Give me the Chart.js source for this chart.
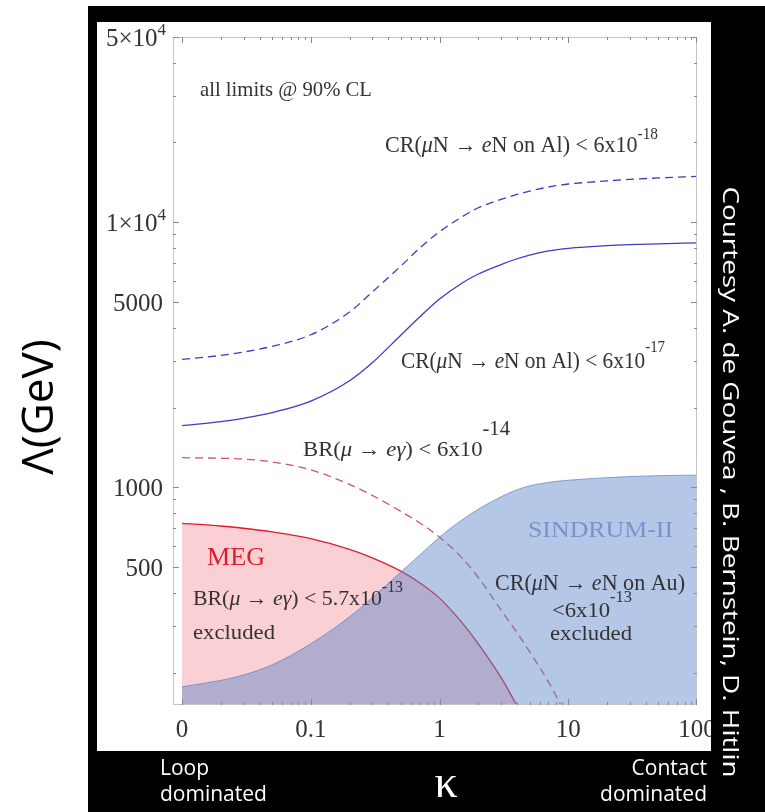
<!DOCTYPE html>
<html>
<head>
<meta charset="utf-8">
<script src="https://cdn.jsdelivr.net/npm/chart.js@4/dist/chart.umd.min.js"></script>
<style>
  body { margin: 0; background: #fff; }
  #wrap { position: absolute; left: 0; top: 0; width: 765px; height: 812px; }
</style>
</head>
<body>
<div id="wrap"><canvas id="lfvchart"></canvas></div>
<script>
// kappa values (x axis, log)
var kappa = [0.01, 0.02, 0.03, 0.05, 0.1, 0.2, 0.3, 0.5, 0.7, 1, 1.5, 2, 3, 4, 5, 7, 8, 10, 20, 30, 50, 100];

// Lambda (GeV)
var crAl18 = [3041, 3146, 3240, 3404, 3764, 4588, 5456, 6832, 7985, 9211, 10497, 11348, 12203, 12742, 13100, 13585, 13739, 13943, 14322, 14509, 14699, 14891];
var crAl17 = [1710, 1769, 1822, 1914, 2116, 2525, 2951, 3748, 4390, 5131, 5903, 6381, 6927, 7285, 7522, 7795, 7869, 7972, 8161, 8232, 8296, 8361];
var brMeg14 = [1294, 1288, 1279, 1247, 1164, 1026, 933, 812, 735, 649, 541, 457, 345, 283, 240, 185, 164, 134, null, null, null, null];
var brMeg13 = [732, 715, 701, 679, 640, 583, 542, 483, 437, 382, 308, 257, 192, 150, null, null, null, null, null, null, null, null];
var sindrum = [177, 187, 196, 214, 257, 325, 383, 479, 555, 649, 755, 827, 921, 979, 1013, 1044, 1053, 1064, 1088, 1098, 1107, 1112];

// tick labels
var xMajor = [0.01, 0.1, 1, 10, 100];
var xLabels = ['0', '0.1', '1', '10', '100'];
var yMajor = [500, 1000, 5000, 10000, 50000];
var yLabels = [[['500', '']], [['1000', '']], [['5000', '']], [['1\u00d710', ''], ['4', 's', 17, 11]], [['5\u00d710', ''], ['4', 's', 17, 11]]];

var SERIF = '"Liberation Serif", "Times New Roman", serif';
var SANS = '"Open Sans", "Noto Sans", sans-serif';

function pts(arr) {
    return kappa.map(function (k, i) { return { x: k, y: arr[i] }; });
}

// draw text made of pieces: [text, style, size, raise]  style: '' normal, 'i' italic, 's' superscript
function drawRich(ctx, parts, x, y, size, width, color, align) {
    var fonts = [], ws = [], total = 0;
    parts.forEach(function (p) {
        var sz = p[1] == 's' ? (p[2] || size * 0.7) : size;
        var f = (p[1] == 'i' ? 'italic ' : '') + sz + 'px ' + SERIF;
        ctx.font = f;
        var w = ctx.measureText(p[0]).width;
        fonts.push(f); ws.push(w); total += w;
    });
    var sx = width ? width / total : 1;
    var x0 = x;
    if (align == 'right') x0 = x - total * sx;
    ctx.save();
    ctx.translate(x0, y);
    ctx.scale(sx, 1);
    ctx.fillStyle = color || '#333';
    ctx.textBaseline = 'alphabetic';
    ctx.textAlign = 'left';
    var cx = 0;
    parts.forEach(function (p, i) {
        ctx.font = fonts[i];
        var dy = p[1] == 's' ? -(p[3] || size * 0.5) : 0;
        ctx.fillText(p[0], cx, dy);
        cx += ws[i];
    });
    ctx.restore();
}

var framePlugin = {
    id: 'frame',
    beforeDraw: function (chart) {
        var ctx = chart.ctx;
        ctx.save();
        ctx.fillStyle = '#fff';
        ctx.fillRect(0, 0, 765, 812);
        ctx.fillStyle = '#000';
        ctx.fillRect(88, 6, 677, 806);
        ctx.fillStyle = '#fff';
        ctx.fillRect(97, 22, 614, 729);
        // y axis title, on the white margin
        ctx.translate(53, 407);
        ctx.rotate(-Math.PI / 2);
        ctx.fillStyle = '#000';
        ctx.font = '44px ' + SANS;
        ctx.textAlign = 'center';
        ctx.textBaseline = 'alphabetic';
        ctx.fillText('\u039b(GeV)', 0, 0);
        ctx.restore();
    },
    afterDatasetsDraw: function (chart) {
        var ctx = chart.ctx, a = chart.chartArea;
        var xs = chart.scales.x, ys = chart.scales.y;
        ctx.save();
        ctx.strokeStyle = '#c4c4c4';
        ctx.lineWidth = 1;
        ctx.strokeRect(a.left + 0.5, a.top + 0.5, a.right - a.left - 1, a.bottom - a.top - 1);

        // inward ticks on all four sides
        ctx.strokeStyle = '#8a8a8a';
        ctx.beginPath();
        [0.01, 0.1, 1, 10].forEach(function (d) {
            for (var m = 1; m < 10; m++) {
                var px = Math.round(xs.getPixelForValue(d * m)) + 0.5;
                var len = m == 1 ? 6 : 3;
                ctx.moveTo(px, a.bottom); ctx.lineTo(px, a.bottom - len);
                ctx.moveTo(px, a.top); ctx.lineTo(px, a.top + len);
            }
        });
        var px100 = Math.round(xs.getPixelForValue(100)) - 0.5;
        ctx.moveTo(px100, a.bottom); ctx.lineTo(px100, a.bottom - 6);
        ctx.moveTo(px100, a.top); ctx.lineTo(px100, a.top + 6);
        [100, 1000, 10000].forEach(function (d) {
            for (var m = 1; m < 10; m++) {
                var v = d * m;
                if (v < ys.min || v > ys.max) continue;
                var py = Math.round(ys.getPixelForValue(v)) + 0.5;
                var len = yMajor.indexOf(v) >= 0 ? 6 : 3;
                ctx.moveTo(a.left, py); ctx.lineTo(a.left + len, py);
                ctx.moveTo(a.right, py); ctx.lineTo(a.right - len, py);
            }
        });
        ctx.stroke();
        ctx.restore();

        // y tick labels with superscripts
        yMajor.forEach(function (v, i) {
            var py = ys.getPixelForValue(v);
            drawRich(ctx, yLabels[i], yLabels[i].length > 1 ? 166 : 163, py + 9, 25, 0, '#333', 'right');
        });

        // annotations
        drawRich(ctx, [['all limits @ 90% CL', '']], 200, 96, 22, 172, '#333');
        drawRich(ctx, [['CR(', ''], ['\u03bc', 'i'], ['N \u2192 ', ''], ['e', 'i'], ['N on Al) < 6x10', ''], ['-18', 's', 16, 13]], 385, 152, 23, 273, '#333');
        drawRich(ctx, [['CR(', ''], ['\u03bc', 'i'], ['N \u2192 ', ''], ['e', 'i'], ['N on Al) < 6x10', ''], ['-17', 's', 16, 16]], 401, 368, 23, 264, '#333');
        drawRich(ctx, [['BR(', ''], ['\u03bc', 'i'], [' \u2192 ', ''], ['e\u03b3', 'i'], [') < 6x10', ''], ['-14', 's', 20, 21]], 303, 456, 22, 207, '#333');
        drawRich(ctx, [['MEG', '']], 207, 565, 25, 58, 'rgb(220,30,45)');
        drawRich(ctx, [['BR(', ''], ['\u03bc', 'i'], [' \u2192 ', ''], ['e\u03b3', 'i'], [') < 5.7x10', ''], ['-13', 's', 16, 13]], 193, 605, 22, 210, '#333');
        drawRich(ctx, [['excluded', '']], 193, 639, 22, 82, '#333');
        drawRich(ctx, [['SINDRUM-II', '']], 528, 537, 24, 145, 'rgb(120,148,202)');
        drawRich(ctx, [['CR(', ''], ['\u03bc', 'i'], ['N \u2192 ', ''], ['e', 'i'], ['N on Au)', '']], 495, 590, 23, 190, '#333');
        drawRich(ctx, [['<6x10', ''], ['-13', 's', 16, 15]], 552, 617, 22, 80, '#333');
        drawRich(ctx, [['excluded', '']], 550, 640, 22, 82, '#333');
    },
    afterDraw: function (chart) {
        var ctx = chart.ctx;
        ctx.save();
        ctx.fillStyle = '#000';
        ctx.fillRect(711, 6, 54, 806);
        ctx.fillStyle = '#fff';
        ctx.font = '21px ' + SANS;
        ctx.textBaseline = 'alphabetic';
        ctx.textAlign = 'left';
        ctx.fillText('Loop', 160, 775);
        ctx.fillText('dominated', 160, 801);
        ctx.textAlign = 'right';
        ctx.fillText('Contact', 707, 775);
        ctx.fillText('dominated', 707, 801);
        ctx.textAlign = 'center';
        ctx.font = '46px ' + SERIF;
        ctx.fillText('\u03ba', 446, 797);
        // credit on the right, reading downwards, stretched to its length
        var credit = 'Courtesy A. de Gouvea , B. Bernstein, D. Hitlin';
        ctx.font = '22px ' + SANS;
        var cw = ctx.measureText(credit).width;
        ctx.translate(723, 482);
        ctx.rotate(Math.PI / 2);
        ctx.scale(591 / cw, 1);
        ctx.fillText(credit, 0, 0);
        ctx.restore();
    }
};

var ctxLfv = document.getElementById('lfvchart').getContext('2d');
var lfvchart = new Chart(ctxLfv, {
    type: 'line',
    data: {
        datasets: [{
            label: 'SINDRUM-II',
            data: pts(sindrum),
            borderColor: 'rgba(90,130,200,0.7)',
            borderWidth: 1,
            backgroundColor: 'rgba(90,130,200,0.45)',
            fill: 'start',
            order: 0
        }, {
            label: 'CR Al 6e-18',
            data: pts(crAl18),
            borderColor: 'rgb(60,60,195)',
            borderWidth: 1.3,
            borderDash: [8, 5],
            fill: false,
            order: 1
        }, {
            label: 'CR Al 6e-17',
            data: pts(crAl17),
            borderColor: 'rgb(60,60,200)',
            borderWidth: 1.3,
            fill: false,
            order: 1
        }, {
            label: 'MEG',
            data: pts(brMeg13),
            borderColor: 'rgb(220,30,45)',
            borderWidth: 1.3,
            backgroundColor: 'rgb(250,208,212)',
            fill: 'start',
            order: 2
        }, {
            label: 'BR 6e-14',
            data: pts(brMeg14),
            borderColor: 'rgb(210,85,95)',
            borderWidth: 1.3,
            borderDash: [8, 5],
            fill: false,
            order: 3
        }]
    },
    options: {
        responsive: true,
        maintainAspectRatio: false,
        animation: false,
        devicePixelRatio: 1,
        layout: { padding: { left: 0, top: 37, right: 68, bottom: 67 } },
        elements: {
            point: { radius: 0 },
            line: { cubicInterpolationMode: 'monotone' }
        },
        plugins: {
            legend: { display: false },
            tooltip: { enabled: false }
        },
        scales: {
            x: {
                type: 'logarithmic',
                min: 0.0085,
                max: 100,
                grid: { display: false },
                border: { display: false },
                ticks: {
                    font: { family: SERIF, size: 25 },
                    color: '#333',
                    padding: 2,
                    maxRotation: 0,
                    autoSkip: false,
                    callback: function (value, index) { return xLabels[index]; }
                },
                afterBuildTicks: function (scale) {
                    scale.ticks = xMajor.map(function (v) { return { value: v }; });
                },
                afterFit: function (scale) { scale.height = 40; }
            },
            y: {
                type: 'logarithmic',
                min: 151,
                max: 50000,
                grid: { display: false },
                border: { display: false },
                ticks: { display: false },
                afterFit: function (scale) { scale.width = 173; }
            }
        }
    },
    plugins: [framePlugin]
});
</script>
</body>
</html>
